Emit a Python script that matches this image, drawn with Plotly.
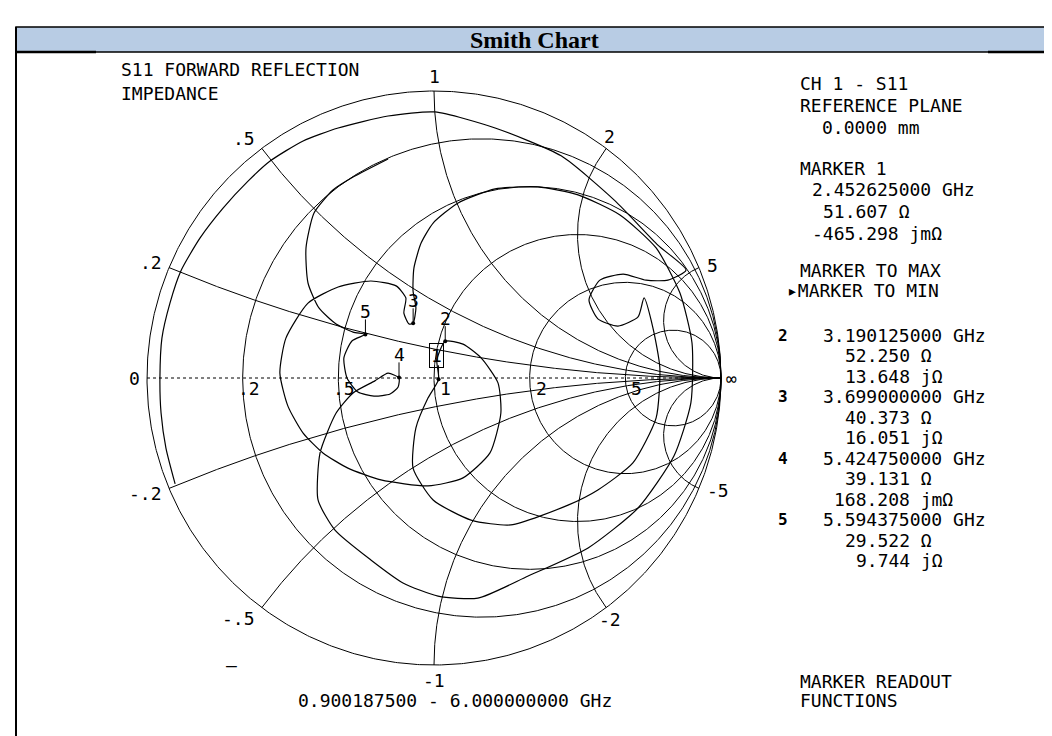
import numpy as np
import plotly.graph_objects as go

# ---------------- data ----------------
R_CIRCLES = [0.2, 0.5, 1, 2, 5]
R_LABELS = [".2", ".5", "1", "2", "5"]
X_ARCS = [0.2, 0.5, 1, 2, 5, -0.2, -0.5, -1, -2, -5]
X_LABELS = [".2", ".5", "1", "2", "5", "-.2", "-.5", "-1", "-2", "-5"]

# S11 trace, reflection coefficient (0.9 -> 6 GHz)
TRACE_RE = [-0.902, -0.934, -0.951, -0.955, -0.948, -0.920, -0.882, -0.815, -0.735, -0.648,
            -0.571, -0.456, -0.334, -0.160, 0.003, 0.213, 0.443, 0.631, 0.780, 0.878,
            0.815, 0.739, 0.659, 0.578, 0.540, 0.571, 0.641, 0.711, 0.732, 0.763, 0.787,
            0.774, 0.693, 0.571, 0.467, 0.268, 0.129, -0.003, -0.073, -0.063, -0.021, 0.016,
            0.010, 0.039, 0.101, 0.164, 0.223, 0.233, 0.195, 0.101, -0.021, -0.185, -0.300,
            -0.387, -0.456, -0.509, -0.537, -0.516, -0.439, -0.334, -0.220, -0.132, -0.098,
            -0.105, -0.087, -0.073,
            -0.063, -0.073, -0.070, -0.045, -0.003, 0.084, 0.213, 0.362, 0.502, 0.648, 0.774,
            0.857, 0.899, 0.895, 0.836, 0.711, 0.537, 0.328, 0.153, 0.014, -0.108, -0.220,
            -0.345, -0.404, -0.397, -0.341, -0.282, -0.206, -0.160, -0.122,
            -0.125, -0.153, -0.209, -0.265, -0.303, -0.314, -0.286, -0.239, -0.282, -0.341,
            -0.401, -0.439, -0.446, -0.418, -0.352, -0.282, -0.160]
TRACE_IM = [-0.369, -0.244, -0.122, 0.000, 0.139, 0.261, 0.373, 0.488, 0.592, 0.686,
            0.756, 0.826, 0.871, 0.913, 0.927, 0.871, 0.774, 0.617, 0.463, 0.376,
            0.341, 0.341, 0.362, 0.341, 0.272, 0.206, 0.181, 0.213, 0.279, 0.174, 0.035,
            -0.139, -0.296, -0.390, -0.443, -0.512, -0.495, -0.425, -0.314, -0.174, -0.070, -0.005,
            0.063, 0.128, 0.118, 0.070, -0.017, -0.122, -0.261, -0.348, -0.376, -0.355, -0.314,
            -0.261, -0.192, -0.098, 0.017, 0.139, 0.261, 0.317, 0.338, 0.321, 0.279,
            0.226, 0.188, 0.191,
            0.244, 0.303, 0.383, 0.470, 0.540, 0.610, 0.659, 0.666, 0.638, 0.568, 0.453,
            0.296, 0.122, -0.087, -0.272, -0.453, -0.592, -0.690, -0.767, -0.760, -0.714, -0.634,
            -0.530, -0.425, -0.261, -0.122, -0.052, -0.010, 0.017, 0.000,
            -0.031, -0.056, -0.063, -0.049, 0.000, 0.070, 0.129, 0.152, 0.160, 0.188,
            0.244, 0.331, 0.453, 0.575, 0.655, 0.700, 0.763]

MARKER_IDS = ["1", "2", "3", "4", "5"]
MARKER_FREQ_GHZ = [2.452625, 3.190125, 3.699, 5.42475, 5.594375]
MARKER_R_OHM = [51.607, 52.250, 40.373, 39.131, 29.522]
MARKER_X_OHM = [-0.465298, 13.648, 16.051, 0.168208, 9.744]
Z0 = 50.0
START_GHZ, STOP_GHZ = 0.9001875, 6.0

# ---------------- geometry helpers (layout only) ----------------
W, H = 1052, 736
CX, CY, RAD = 426.0, 370.0, 287.0
FONT = "DejaVu Sans Mono"
FS = 18
CW = 0.602 * FS


def X(px):
    return (px - CX) / RAD


def Y(py):
    return (CY - py) / RAD


def PX(gx):
    return CX + gx * RAD


def PY(gy):
    return CY - gy * RAD


fig = go.Figure()
LINE = dict(color="black", width=1)


def add_line(x, y, line=LINE, mode="lines", **kw):
    fig.add_trace(go.Scatter(x=x, y=y, mode=mode, line=line, hoverinfo="skip",
                             showlegend=False, **kw))


# outer circle
t = np.linspace(0, 2 * np.pi, 900)
add_line(np.cos(t), np.sin(t))
# constant resistance circles
for r in R_CIRCLES:
    c, rr = r / (1 + r), 1 / (1 + r)
    add_line(c + rr * np.cos(t), rr * np.sin(t))
# constant reactance arcs
rs = np.tan(np.linspace(0, np.pi / 2 * 0.9995, 700))
for xv in X_ARCS:
    z = rs + 1j * xv
    g = (z - 1) / (z + 1)
    add_line(np.append(g.real, 1.0), np.append(g.imag, 0.0))
# dotted real axis
add_line([-1, 1], [0, 0], line=dict(color="black", width=1, dash="dot"))

# measured trace
add_line(TRACE_RE, TRACE_IM, line=dict(color="black", width=1.2, shape="spline", smoothing=0.6))

# markers
zm = (np.array(MARKER_R_OHM) + 1j * np.array(MARKER_X_OHM)) / Z0
gm = (zm - 1) / (zm + 1)
add_line(gm.real, gm.imag, mode="markers", marker=dict(color="black", size=4))

annotations = []


def ann(text, px, py, xa="left", size=FS, family=FONT, ya="middle", **kw):
    annotations.append(dict(text=text, x=X(px), y=Y(py), xref="x", yref="y",
                            xanchor=xa, yanchor=ya, showarrow=False,
                            font=dict(family=family, size=size, color="black"), **kw))


for i, mid in enumerate(MARKER_IDS):
    mx, my = PX(gm[i].real), PY(gm[i].imag)
    top = my - (14 if i == 0 else 15)
    add_line([gm[i].real, gm[i].real], [gm[i].imag, Y(top)])
    if i == 0:
        ann(mid, mx - 2, my - 24, xa="center", bordercolor="black", borderwidth=1, borderpad=1)
    else:
        ann(mid, mx, my - 23, xa="center")

# reactance labels around the rim
for xv, lab in zip(X_ARCS, X_LABELS):
    g = (1j * xv - 1) / (1j * xv + 1)
    ex, ey = PX(g.real), PY(g.imag)
    if g.real < -0.3:
        ann(lab, ex - 5, ey - g.imag * 13, xa="right")
    elif g.real > 0.7:
        ann(lab, ex + 6, ey - g.imag * 6, xa="left")
    else:
        ann(lab, ex + g.real * 6, ey - g.imag * 15, xa="center")

# resistance labels on the real axis
for r, lab in zip(R_CIRCLES, R_LABELS):
    ann(lab, PX((r - 1) / (r + 1)) + 19, CY + 10, xa="right")
ann("0", PX(-1) - 5, CY, xa="right")
ann("\u221e", PX(1) + 3, CY, xa="left")
ann("\u2013", 223, 657, xa="center")

# left header text
ann("S11 FORWARD REFLECTION", 111, 61)
ann("IMPEDANCE", 111, 85)
ann(f"{START_GHZ:.9f} - {STOP_GHZ:.9f} GHz", 288, 692)

# right readout panel
NB = "\u00a0"


def imag_text(xv):
    if abs(xv) < 1:
        return f"{xv * 1000:.3f}", "jm\u03a9"
    return f"{xv:.3f}", "j\u03a9"


ann("CH 1 - S11", 790, 75)
ann("REFERENCE PLANE", 790, 97)
ann("0.0000 mm", 812, 119)
ann("MARKER 1", 790, 160)
ann(f"{MARKER_FREQ_GHZ[0]:.9f} GHz", 802, 181)
ann(f"{MARKER_R_OHM[0]:.3f}{NB}\u03a9", 813, 203)
v, u = imag_text(MARKER_X_OHM[0])
ann(f"{v}{NB}{u}", 802, 225)
ann("MARKER TO MAX", 790, 262)
ann("\u25b8MARKER TO MIN", 777, 282)

NUM_END = 900
y0 = 327
for k in range(1, 5):
    yy = y0 + (k - 1) * 3 * 20.5
    ann(f"<b>{MARKER_IDS[k]}</b>", 768, yy, family="DejaVu Sans Mono", size=16)
    ann(f"{MARKER_FREQ_GHZ[k]:.9f} GHz", 813, yy)
    rtxt = f"{MARKER_R_OHM[k]:.3f}"
    ann(f"{rtxt}{NB}\u03a9", NUM_END - len(rtxt) * CW, yy + 20.5)
    v, u = imag_text(MARKER_X_OHM[k])
    ann(f"{v}{NB}{u}", NUM_END - len(v) * CW, yy + 41)

ann("MARKER READOUT", 790, 673)
ann("FUNCTIONS", 790, 692)

# title
HDR_TOP, HDR_BOT = 19, 44
annotations.append(dict(text="<b>Smith Chart</b>", x=0.5, y=1 - (HDR_TOP + HDR_BOT) / 2 / H,
                        xref="paper", yref="paper",
                        xanchor="center", yanchor="middle", showarrow=False,
                        font=dict(family="Liberation Serif", size=24, color="black")))


def px_x(p):
    return p / W


def px_y(p):
    return 1 - p / H


shapes = [
    dict(type="rect", xref="paper", yref="paper", x0=px_x(8), x1=px_x(1050), y0=px_y(HDR_BOT),
         y1=px_y(HDR_TOP), fillcolor="#B8CCE4", line=dict(color="black", width=1.5), layer="below"),
    dict(type="line", xref="paper", yref="paper", x0=px_x(8), x1=px_x(8), y0=px_y(HDR_TOP), y1=px_y(736),
         line=dict(color="black", width=2)),
    dict(type="line", xref="paper", yref="paper", x0=px_x(8), x1=px_x(88), y0=px_y(HDR_BOT),
         y1=px_y(HDR_BOT), line=dict(color="black", width=2.5)),
    dict(type="line", xref="paper", yref="paper", x0=px_x(980), x1=px_x(1050), y0=px_y(HDR_BOT),
         y1=px_y(HDR_BOT), line=dict(color="black", width=2.5)),
]

fig.update_layout(
    width=W, height=H, autosize=False,
    margin=dict(l=0, r=0, t=0, b=0),
    paper_bgcolor="white", plot_bgcolor="white",
    xaxis=dict(range=[X(0), X(W)], visible=False, fixedrange=True),
    yaxis=dict(range=[Y(H), Y(0)], visible=False, fixedrange=True),
    annotations=annotations, shapes=shapes, showlegend=False,
)
fig.write_html("out.html")
